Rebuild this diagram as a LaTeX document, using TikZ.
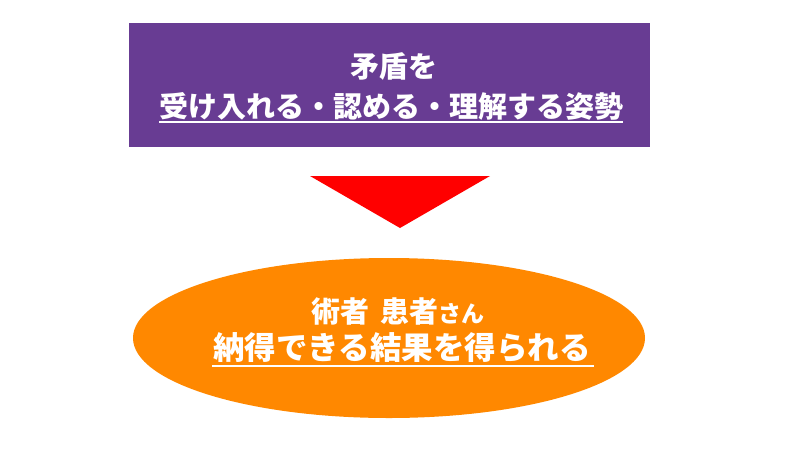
\documentclass[tikz,border=0pt]{standalone}
\usepackage{fontspec}
\newfontfamily\jp{Noto Sans CJK JP}
\definecolor{boxpurple}{RGB}{104,60,147}
\definecolor{ellorange}{RGB}{255,136,0}
\definecolor{arrred}{RGB}{255,0,0}
\tikzset{
  txt/.style={inner sep=0pt, text=white, font=\jp\bfseries},
  uline/.style={draw=white, line width=1.6pt}
}
\begin{document}
\begin{tikzpicture}[x=1pt,y=-1pt]
\useasboundingbox (0,0) rectangle (800,450);
% purple box
\node[fill=boxpurple, minimum width=521pt, minimum height=124pt, inner sep=0pt, anchor=north west] (box) at (129,23) {};
% red triangle
\coordinate (tl) at (310,176);
\coordinate (tr) at (490,176);
\coordinate (tb) at (400,228);
\fill[arrred] (tl) -- (tr) -- (tb) -- cycle;
% orange ellipse
\fill[ellorange] (389,338) ellipse [x radius=256, y radius=80];
\coordinate (ell) at (389,338);
% top texts
\node[txt, font=\jp\bfseries\fontsize{29pt}{29pt}\selectfont] (t1) at (394,66) {矛盾を};
\node[txt, font=\jp\bfseries\fontsize{29pt}{29pt}\selectfont] (t2) at (391,106) {受け入れる・認める・理解する姿勢};
\coordinate (u1a) at (159,122);
\coordinate (u1b) at (623,122);
\draw[uline] (u1a) -- (u1b);
% ellipse texts
\node[txt, font=\jp\bfseries\fontsize{29pt}{29pt}\selectfont] (e1) at (398,311) {術者\hspace{11pt}患者{\fontsize{23pt}{23pt}\selectfont さん}};
\node[txt, font=\jp\bfseries\fontsize{31.5pt}{31.5pt}\selectfont] (e2) at (402,348) {納得できる結果を得られる};
\coordinate (u2a) at (212,366);
\coordinate (u2b) at (594,366);
\draw[uline] (u2a) -- (u2b);
\end{tikzpicture}
\end{document}
